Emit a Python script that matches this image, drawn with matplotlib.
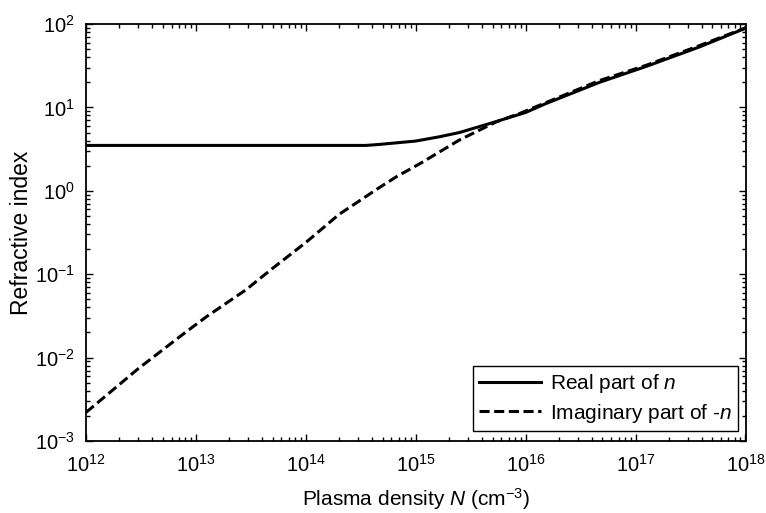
import matplotlib
matplotlib.use("Agg")
import matplotlib.pyplot as plt
from matplotlib.ticker import LogLocator, FixedLocator, LogFormatterMathtext, NullFormatter

plt.rcParams['font.family'] = ['Liberation Sans', 'DejaVu Sans']
plt.rcParams['mathtext.fontset'] = 'custom'
plt.rcParams['mathtext.rm'] = 'Liberation Sans'
plt.rcParams['mathtext.it'] = 'Liberation Sans:italic'

# Data
density_real = [1e12, 1e13, 1e14, 3.5e14, 4.7e14, 1e15, 1.65e15, 2.5e15,
                4.7e15, 1e16, 1.5e16, 4.7e16, 1.25e17, 3.8e17, 1e18]
real_n = [3.5, 3.5, 3.5, 3.5, 3.6, 3.95, 4.45, 5.0,
          6.4, 8.7, 11.0, 20.0, 31.0, 53.0, 89.0]

density_imag = [1e12, 3e12, 8e12, 1.25e13, 2.85e13, 5e13, 1e14, 2e14,
                4.7e14, 6.7e14, 1.1e15, 2.5e15, 5.4e15, 8.9e15, 1.5e16,
                4.7e16, 1.25e17, 3.8e17, 1e18]
imag_n = [2.2e-3, 7.4e-3, 0.020, 0.031, 0.065, 0.118, 0.24, 0.52,
          1.1, 1.48, 2.13, 4.07, 6.7, 8.5, 11.3,
          21.0, 32.0, 55.0, 90.0]

x_ticks = [1e12, 1e13, 1e14, 1e15, 1e16, 1e17, 1e18]
y_ticks = [1e-3, 1e-2, 1e-1, 1e0, 1e1, 1e2]

fig = plt.figure(figsize=(7.66, 5.13), dpi=100)
ax = fig.add_axes([86/766, 72/513, (745.5-86)/766, (441-24)/513])

ax.loglog(density_real, real_n, color='black', lw=2.2, label='Real part of $n$')
ax.loglog(density_imag, imag_n, color='black', lw=2.2, ls=(0, (3.3, 1.5)),
          label='Imaginary part of -$n$')

ax.set_xlim(1e12, 1e18)
ax.set_ylim(1e-3, 1e2)
ax.xaxis.set_major_locator(FixedLocator(x_ticks))
ax.yaxis.set_major_locator(FixedLocator(y_ticks))
ax.xaxis.set_minor_locator(LogLocator(base=10, subs=range(2, 10), numticks=100))
ax.yaxis.set_minor_locator(LogLocator(base=10, subs=range(2, 10), numticks=100))
ax.xaxis.set_major_formatter(LogFormatterMathtext())
ax.yaxis.set_major_formatter(LogFormatterMathtext())
ax.xaxis.set_minor_formatter(NullFormatter())
ax.yaxis.set_minor_formatter(NullFormatter())

ax.tick_params(which='both', direction='in', top=True, right=True, labelsize=14.5,
               width=1.0, colors='black')
ax.tick_params(which='major', length=5)
ax.tick_params(which='minor', length=2.8)
ax.tick_params(axis='x', which='major', pad=9)
ax.tick_params(axis='y', which='major', pad=8)
for s in ax.spines.values():
    s.set_linewidth(1.3)

ax.set_xlabel('Plasma density $N$ (cm$^{-3}$)', fontsize=15, labelpad=8)
ax.set_ylabel('Refractive index', fontsize=16.5, labelpad=1)

leg = ax.legend(loc='lower right', bbox_to_anchor=(0.9886, 0.024),
                fontsize=15, frameon=True, fancybox=False,
                edgecolor='black', framealpha=1, handlelength=3.0,
                borderaxespad=0.0, borderpad=0.3, labelspacing=0.3,
                handletextpad=0.4)
leg.get_frame().set_linewidth(1.0)

fig.savefig('out.png', dpi=100)
